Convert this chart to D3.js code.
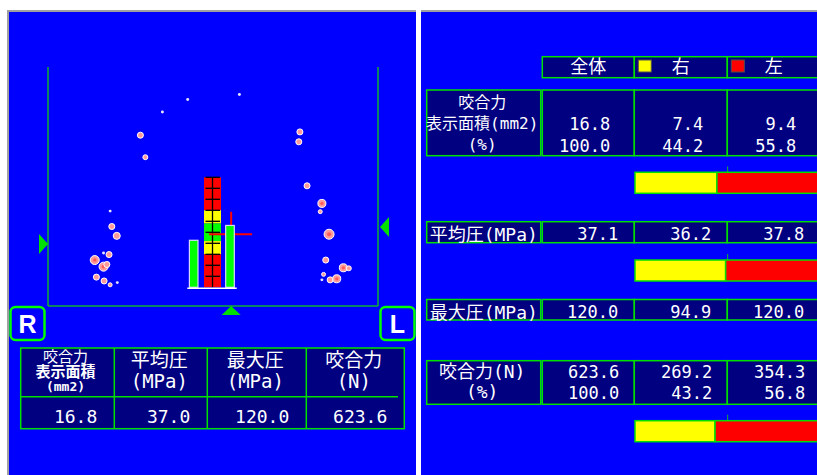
<!DOCTYPE html>
<html>
<head>
<meta charset="utf-8">
<script src="https://cdn.jsdelivr.net/npm/d3@7"></script>
<style>
  body { margin: 0; background: #fff; overflow: hidden; }
  text { font-family: 'DejaVu Sans Mono', 'Noto Sans CJK JP', monospace; fill: #fff; }
</style>
</head>
<body>
<svg id="chart" width="817" height="475"></svg>
<script>
// ---- data ----
const sides = ['全体', '右', '左'];
const areaValues = [16.8, 7.4, 9.4];
const areaPercent = [100.0, 44.2, 55.8];
const meanPressure = [37.1, 36.2, 37.8];
const maxPressure = [120.0, 94.9, 120.0];
const forceValues = [623.6, 269.2, 354.3];
const forcePercent = [100.0, 43.2, 56.8];

const summaryHeaders = [['咬合力', '表示面積', '(mm2)'], ['平均圧', '(MPa)'], ['最大圧', '(MPa)'], ['咬合力', '(N)']];
const summaryValues = [16.8, 37.0, 120.0, 623.6];

// contact points (mm, x: + = patient's left, y: from the front)
const contactX = [4.8, -4.6, -9.2, -13.2, -12.3, -18.7, -18.4, -17.5, -19.9, -18.9, -21.5, -19.9, -19.3, -21.2, -19.8, -18.7, -17.4,
  15.8, 15.6, 17.1, 19.8, 19.5, 21.1, 20.5, 23.7, 24.7, 20.1, 19.8, 21.3, 22.5];
const contactY = [5.0, 5.9, 8.2, 12.4, 16.4, 26.2, 29.0, 30.7, 33.8, 34.1, 35.1, 36.3, 35.9, 38.2, 38.9, 39.6, 39.2,
  11.8, 13.6, 21.6, 24.8, 26.3, 30.4, 35.1, 36.5, 36.6, 37.7, 38.7, 38.7, 38.5];
const contactR = [0.27, 0.27, 0.27, 0.55, 0.45, 0.27, 0.55, 0.64, 0.27, 0.55, 0.82, 0.82, 0.55, 0.55, 0.55, 0.36, 0.27,
  0.55, 0.55, 0.55, 0.73, 0.36, 0.91, 0.55, 0.73, 0.45, 0.36, 0.27, 0.55, 0.73];

const barSides = ['R', 'L'];
const barForce = [269.2, 354.3];
const cofPoint = [3.3, 30.4];
const balanceBreaks = [50, 20, 8, -8, -20, -50];
const sideMarkers = [32.2, 29.1];

// ---- colours ----
const BLUE = '#0000ff', NAVY = '#000080', GRID = '#00e000', FRAME = '#10b030';
const RED = '#ff0000', YELLOW = '#ffff00', GREEN = '#00ff00';
const bandColors = [RED, YELLOW, GREEN, YELLOW, RED];

const svg = d3.select('#chart');

// panels
svg.append('rect').attr('x', 7).attr('y', 10).attr('width', 409).attr('height', 470).attr('fill', '#a0a0a0');
svg.append('rect').attr('x', 9).attr('y', 12).attr('width', 407).attr('height', 470).attr('fill', BLUE);
svg.append('rect').attr('x', 421).attr('y', 10).attr('width', 400).attr('height', 470).attr('fill', '#a0a0a0');
svg.append('rect').attr('x', 421).attr('y', 12).attr('width', 400).attr('height', 470).attr('fill', BLUE);

// ---- left panel: contact map ----
const xMM = d3.scaleLinear().domain([-30, 30]).range([48, 378]);
const yMM = d3.scaleLinear().domain([0, 43.45]).range([67, 306]);
const rMM = d3.scaleLinear().domain([0, 1]).range([0, 5.5]);

const map = svg.append('g');
map.append('line').attr('x1', xMM(-30)).attr('x2', xMM(-30)).attr('y1', yMM(0)).attr('y2', yMM(43.45))
  .attr('stroke', FRAME).attr('stroke-width', 1.5);
map.append('line').attr('x1', xMM(30)).attr('x2', xMM(30)).attr('y1', yMM(0)).attr('y2', yMM(43.45))
  .attr('stroke', FRAME).attr('stroke-width', 1.5);
map.append('line').attr('x1', xMM(-30)).attr('x2', xMM(30)).attr('y1', yMM(43.45)).attr('y2', yMM(43.45))
  .attr('stroke', FRAME).attr('stroke-width', 1.5);

// side markers and COF marker
const lx = xMM(-30), ly = yMM(sideMarkers[0]);
map.append('path').attr('d', `M${lx},${ly} L${lx - 9},${ly - 10} L${lx - 9},${ly + 10} Z`).attr('fill', GRID);
const rx = xMM(30) + 2, ry = yMM(sideMarkers[1]);
map.append('path').attr('d', `M${rx},${ry} L${rx + 9},${ry - 10} L${rx + 9},${ry + 10} Z`).attr('fill', GRID);
const bx = xMM(cofPoint[0]), by = yMM(43.45);
map.append('path').attr('d', `M${bx},${by} L${bx - 9.5},${by + 9} L${bx + 9.5},${by + 9} Z`).attr('fill', GRID);

// contact dots
const dots = map.selectAll('.dot').data(contactX.map((x, i) => ({ x, y: contactY[i], r: contactR[i] })))
  .enter().append('g').attr('class', 'dot');
dots.append('circle')
  .attr('cx', d => xMM(d.x)).attr('cy', d => yMM(d.y)).attr('r', d => rMM(d.r))
  .attr('fill', d => d.r < 0.3 ? '#e8e4ff' : '#ff9a9a')
  .attr('stroke', '#ffffff').attr('stroke-width', d => d.r < 0.3 ? 0 : 1);
dots.filter(d => d.r >= 0.7).append('circle')
  .attr('cx', d => xMM(d.x)).attr('cy', d => yMM(d.y)).attr('r', d => rMM(d.r) * 0.4)
  .attr('fill', '#ff5a5a');

// balance column
const balY = d3.scaleLinear().domain([-50, 50]).range([287.3, 177.3]);
const forceY = d3.scaleLinear().domain([0, 630]).range([287.3, 177.3]);
const colX = 204, colW = 17;
map.selectAll('.band').data(bandColors).enter().append('rect')
  .attr('x', colX).attr('width', colW)
  .attr('y', (d, i) => balY(balanceBreaks[i]))
  .attr('height', (d, i) => balY(balanceBreaks[i + 1]) - balY(balanceBreaks[i]))
  .attr('fill', d => d);
map.selectAll('.tick').data(d3.range(-40, 51, 10)).enter().append('line')
  .attr('x1', colX + 1.5).attr('x2', colX + colW - 1).attr('y1', d => balY(d)).attr('y2', d => balY(d))
  .attr('stroke', '#000').attr('stroke-width', 1.3);
map.append('line').attr('x1', colX + colW / 2).attr('x2', colX + colW / 2).attr('y1', balY(50)).attr('y2', balY(-50))
  .attr('stroke', '#000').attr('stroke-width', 1.3);

// centre of force crosshair
const cx = xMM(cofPoint[0]), cy = yMM(cofPoint[1]);
map.append('line').attr('x1', cx - 22).attr('x2', cx + 21).attr('y1', cy).attr('y2', cy).attr('stroke', RED).attr('stroke-width', 2);
map.append('line').attr('x1', cx).attr('x2', cx).attr('y1', cy - 22.5).attr('y2', cy + 22).attr('stroke', RED).attr('stroke-width', 2);

// R / L force bars
const barX = d3.scalePoint().domain(barSides).range([193.7, 230]);
map.selectAll('.fbar').data(barForce).enter().append('rect')
  .attr('x', (d, i) => barX(barSides[i]) - 4.3).attr('width', 8.6)
  .attr('y', d => forceY(d)).attr('height', d => forceY(0) - forceY(d))
  .attr('fill', GREEN).attr('stroke', '#d8d8ff').attr('stroke-width', 1.2);
map.append('line').attr('x1', 187.3).attr('x2', 236.7).attr('y1', 288.3).attr('y2', 288.3)
  .attr('stroke', '#fff').attr('stroke-width', 1.5);

// R / L boxes
[['R', 10.5], ['L', 380.5]].forEach(([t, x]) => {
  svg.append('rect').attr('x', x).attr('y', 307).attr('width', 34).attr('height', 33).attr('rx', 5)
    .attr('fill', 'none').attr('stroke', GREEN).attr('stroke-width', 2.5);
  svg.append('text').attr('x', x + 17).attr('y', 333).attr('text-anchor', 'middle')
    .style('font-family', "'Liberation Sans', Arial, sans-serif").style('font-weight', 'bold').style('font-size', '25px').text(t);
});

// summary table
const sumEdges = [20.7, 114.3, 207.3, 306.3, 404.3];
const sumTable = svg.append('g');
sumTable.append('rect').attr('x', 20.7).attr('y', 348).attr('width', 404.3 - 20.7).attr('height', 80.7)
  .attr('fill', NAVY).attr('stroke', GRID).attr('stroke-width', 1.5);
sumEdges.slice(1, 4).forEach(x => sumTable.append('line').attr('x1', x).attr('x2', x).attr('y1', 348).attr('y2', 428.7)
  .attr('stroke', GRID).attr('stroke-width', 1.5));
sumTable.append('line').attr('x1', 20.7).attr('x2', 398).attr('y1', 396.7).attr('y2', 396.7).attr('stroke', GRID).attr('stroke-width', 1.5);

summaryHeaders.forEach((lines, i) => {
  const mid = (sumEdges[i] + sumEdges[i + 1]) / 2;
  const small = lines.length === 3;
  const bases = small ? [361.5, 377, 391] : [367, 388];
  lines.forEach((s, j) => {
    sumTable.append('text').attr('x', small ? mid - 2 : mid - 1.5).attr('y', bases[j]).attr('text-anchor', 'middle')
      .style('font-size', small ? (j === 2 ? '13px' : '15px') : '19px')
      .style('font-weight', small && j > 0 ? 'bold' : 'normal')
      .text(s);
  });
  sumTable.append('text').attr('x', sumEdges[i + 1] - 17).attr('y', 423).attr('text-anchor', 'end')
    .style('font-size', '18px').text(summaryValues[i].toFixed(1));
});

// ---- right panel: L/R comparison table ----
const colEdges = [542.3, 634.3, 727.3, 820.3];
const labelX0 = 426.7, labelX1 = 540.7;
const right = svg.append('g');

// header
sides.forEach((s, i) => {
  right.append('rect').attr('x', colEdges[i]).attr('y', 56.7).attr('width', colEdges[i + 1] - colEdges[i]).attr('height', 21)
    .attr('fill', NAVY).attr('stroke', GRID).attr('stroke-width', 1.5);
  right.append('text').attr('x', (colEdges[i] + colEdges[i + 1]) / 2).attr('y', 73).attr('text-anchor', 'middle')
    .style('font-size', '18px').text(s);
  if (i > 0) {
    right.append('rect').attr('x', colEdges[i] + 4).attr('y', 60).attr('width', 13).attr('height', 12)
      .attr('fill', i === 1 ? YELLOW : RED).attr('stroke', '#505050').attr('stroke-width', 1);
  }
});

const rightRows = [
  { y0: 90, y1: 155.7, anchor: 'middle', pad: 24,
    labels: [['咬合力', '16px', 107.5], ['表示面積(mm2)', '16px', 129], ['(%)', '16px', 149.5]],
    values: [[areaValues, 130], [areaPercent, 151.7]],
    bar: { top: 172.3, share: areaPercent[1] } },
  { y0: 221.7, y1: 242.7, anchor: 'start', pad: 16,
    labels: [['平均圧(MPa)', '18px', 240.5]],
    values: [[meanPressure, 240]],
    bar: { top: 260, share: meanPressure[1] / (meanPressure[1] + meanPressure[2]) * 100 } },
  { y0: 299.5, y1: 320, anchor: 'start', pad: 16,
    labels: [['最大圧(MPa)', '18px', 318.5]],
    values: [[maxPressure, 318]] },
  { y0: 360.7, y1: 404.3, anchor: 'middle', pad: 15,
    labels: [['咬合力(N)', '18px', 377.5], ['(%)', '18px', 397.5]],
    values: [[forceValues, 378], [forcePercent, 399]],
    bar: { top: 420.7, share: forcePercent[1] } }
];

const shareX = d3.scaleLinear().domain([0, 100]).range([colEdges[1] + 0.7, colEdges[3]]);

rightRows.forEach(row => {
  const h = row.y1 - row.y0;
  right.append('rect').attr('x', labelX0).attr('y', row.y0).attr('width', labelX1 - labelX0).attr('height', h)
    .attr('fill', NAVY).attr('stroke', GRID).attr('stroke-width', 1.5);
  sides.forEach((s, i) => right.append('rect').attr('x', colEdges[i]).attr('y', row.y0)
    .attr('width', colEdges[i + 1] - colEdges[i]).attr('height', h)
    .attr('fill', NAVY).attr('stroke', GRID).attr('stroke-width', 1.5));
  row.labels.forEach(([t, fs, base]) => {
    right.append('text')
      .attr('x', row.anchor === 'middle' ? (labelX0 + labelX1) / 2 - 1.5 : labelX0 + 3)
      .attr('y', base).attr('text-anchor', row.anchor).style('font-size', fs).text(t);
  });
  row.values.forEach(([vals, base]) => {
    vals.forEach((v, i) => right.append('text').attr('x', colEdges[i + 1] - row.pad).attr('y', base)
      .attr('text-anchor', 'end').style('font-size', '17px').text(v.toFixed(1)));
  });
  if (row.bar) {
    const t = row.bar.top;
    right.append('line').attr('x1', shareX(50)).attr('x2', shareX(50)).attr('y1', t - 6).attr('y2', t)
      .attr('stroke', FRAME).attr('stroke-width', 1);
    right.append('rect').attr('x', shareX(0)).attr('y', t).attr('width', shareX(row.bar.share) - shareX(0)).attr('height', 21)
      .attr('fill', YELLOW).attr('stroke', GRID).attr('stroke-width', 1.5);
    right.append('rect').attr('x', shareX(row.bar.share)).attr('y', t).attr('width', shareX(100) - shareX(row.bar.share)).attr('height', 21)
      .attr('fill', RED).attr('stroke', GRID).attr('stroke-width', 1.5);
  }
});
</script>
</body>
</html>
